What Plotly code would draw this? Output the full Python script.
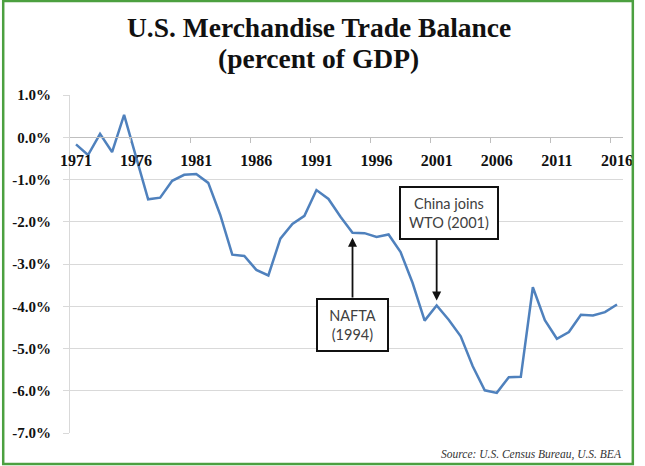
import plotly.graph_objects as go

# ---- data ----
years = list(range(1971, 2017))
balance_pct = [
    -0.17, -0.42, 0.08, -0.35, 0.53, -0.46, -1.47, -1.43, -1.03, -0.89,
    -0.87, -1.08, -1.84, -2.78, -2.81, -3.14, -3.27, -2.40, -2.05, -1.86,
    -1.25, -1.46, -1.88, -2.26, -2.27, -2.36, -2.30, -2.72, -3.45, -4.34,
    -3.98, -4.32, -4.71, -5.42, -5.99, -6.05, -5.68, -5.67, -3.55, -4.33,
    -4.77, -4.61, -4.20, -4.22, -4.14, -3.96,
]
xtick_vals = [1971, 1976, 1981, 1986, 1991, 1996, 2001, 2006, 2011, 2016]
xtick_labels = ["1971", "1976", "1981", "1986", "1991", "1996", "2001", "2006", "2011", "2016"]
xtick_marks = [1975.5, 1980.5, 1985.5, 1990.5, 1995.5, 2000.5, 2005.5, 2010.5, 2015.5]
ytick_vals = [1, 0, -1, -2, -3, -4, -5, -6, -7]
ytick_labels = ["1.0%", "0.0%", "-1.0%", "-2.0%", "-3.0%", "-4.0%", "-5.0%", "-6.0%", "-7.0%"]
events = ["China joins<br>WTO (2001)", "NAFTA<br>(1994)"]
event_years = [2001, 1994]

# ---- layout geometry ----
FW, FH = 645, 466
L, R, T, B = 69, 13, 95, 33
PW, PH = FW - L - R, FH - T - B


def px_x(px):
    return (px - L) / PW


def px_y(py):
    return (FH - B - py) / PH


def val_y(py):
    # pixel -> data value on the y axis (range -7..1)
    return 1 - (py - T) / PH * 8


fig = go.Figure()
fig.add_trace(go.Scatter(
    x=years, y=balance_pct, mode="lines",
    line=dict(color="#4F81BD", width=2.5),
    showlegend=False, hoverinfo="x+y",
))
# invisible trace to activate xaxis2 (tick marks between categories)
fig.add_trace(go.Scatter(x=[years[0]], y=[balance_pct[0]], xaxis="x2",
                         mode="markers", marker=dict(opacity=0),
                         showlegend=False, hoverinfo="skip"))

serif = "Liberation Serif, Times New Roman, serif"
axis_pos = (0 - (-7)) / 8

fig.update_layout(
    width=FW, height=FH,
    margin=dict(l=L, r=R, t=T, b=B),
    paper_bgcolor="white", plot_bgcolor="white",
    xaxis=dict(
        range=[1970.5, 2016.5], anchor="free", position=axis_pos,
        tickvals=xtick_vals, ticktext=xtick_labels, ticks="",
        showgrid=False, zeroline=False, showline=False,
        tickfont=dict(family=serif, size=16, color="#111", weight="bold"),
        ticklabelstandoff=12,
    ),
    xaxis2=dict(
        range=[1970.5, 2016.5], anchor="free", position=axis_pos,
        overlaying="x", tickvals=xtick_marks, ticks="outside", ticklen=5,
        tickcolor="#bfbfbf", showticklabels=False, showgrid=False,
        zeroline=False, showline=True, linecolor="#bfbfbf", linewidth=1,
    ),
    yaxis=dict(
        range=[-7, 1], tickvals=ytick_vals, ticktext=ytick_labels,
        ticks="outside", ticklen=6, tickcolor="#d9d9d9",
        showgrid=True, gridcolor="#d9d9d9", gridwidth=1,
        zeroline=False, showline=True, linecolor="#d9d9d9", linewidth=1,
        tickfont=dict(family=serif, size=15, color="#111", weight="bold"),
        ticklabelstandoff=9,
    ),
)

annotations = [
    dict(text="<b>U.S. Merchandise Trade Balance</b>", xref="paper", yref="paper",
         x=px_x(322.5), y=px_y(27), showarrow=False, xanchor="center", yanchor="middle",
         font=dict(family=serif, size=27.5, color="#111")),
    dict(text="<b>(percent of GDP)</b>", xref="paper", yref="paper",
         x=px_x(322.5), y=px_y(59), showarrow=False, xanchor="center", yanchor="middle",
         font=dict(family=serif, size=27.5, color="#111")),
    dict(text="<i>Source: U.S. Census Bureau, U.S. BEA</i>", xref="paper", yref="paper",
         x=px_x(633), y=px_y(454), showarrow=False, xanchor="right", yanchor="middle",
         font=dict(family=serif, size=11.5, color="#333")),
]

# event boxes
box_font = dict(family="Lato", size=14.5, color="#404040")
box_specs = [  # (center year offset, box center pixel y, width, height)
    (1.0, 212.5, 96, 50),
    (0.0, 325.0, 69, 50),
]
for text, yr, (dx, cy, w, h) in zip(events, event_years, box_specs):
    annotations.append(dict(
        text=text, x=yr + dx, y=val_y(cy), xref="x", yref="y", showarrow=False,
        width=w, height=h, bgcolor="white", bordercolor="#111", borderwidth=2,
        borderpad=0, font=box_font, align="center",
    ))

# arrows from boxes to data points
idx = {y: i for i, y in enumerate(years)}
arrow_starts = [238.5, 299.0]
for yr, start_py in zip(event_years, arrow_starts):
    annotations.append(dict(
        text="", x=yr, y=balance_pct[idx[yr]], xref="x", yref="y",
        ax=yr, ay=val_y(start_py), axref="x", ayref="y",
        showarrow=True, arrowhead=2, arrowsize=1, arrowwidth=1.8,
        arrowcolor="#111", standoff=5,
    ))

fig.update_layout(annotations=annotations)

fig.add_shape(type="rect", xref="paper", yref="paper",
              x0=px_x(1), x1=px_x(642), y0=px_y(464), y1=px_y(1),
              line=dict(color="#4CA040", width=2.5), layer="above")

fig.write_html("out.html")
